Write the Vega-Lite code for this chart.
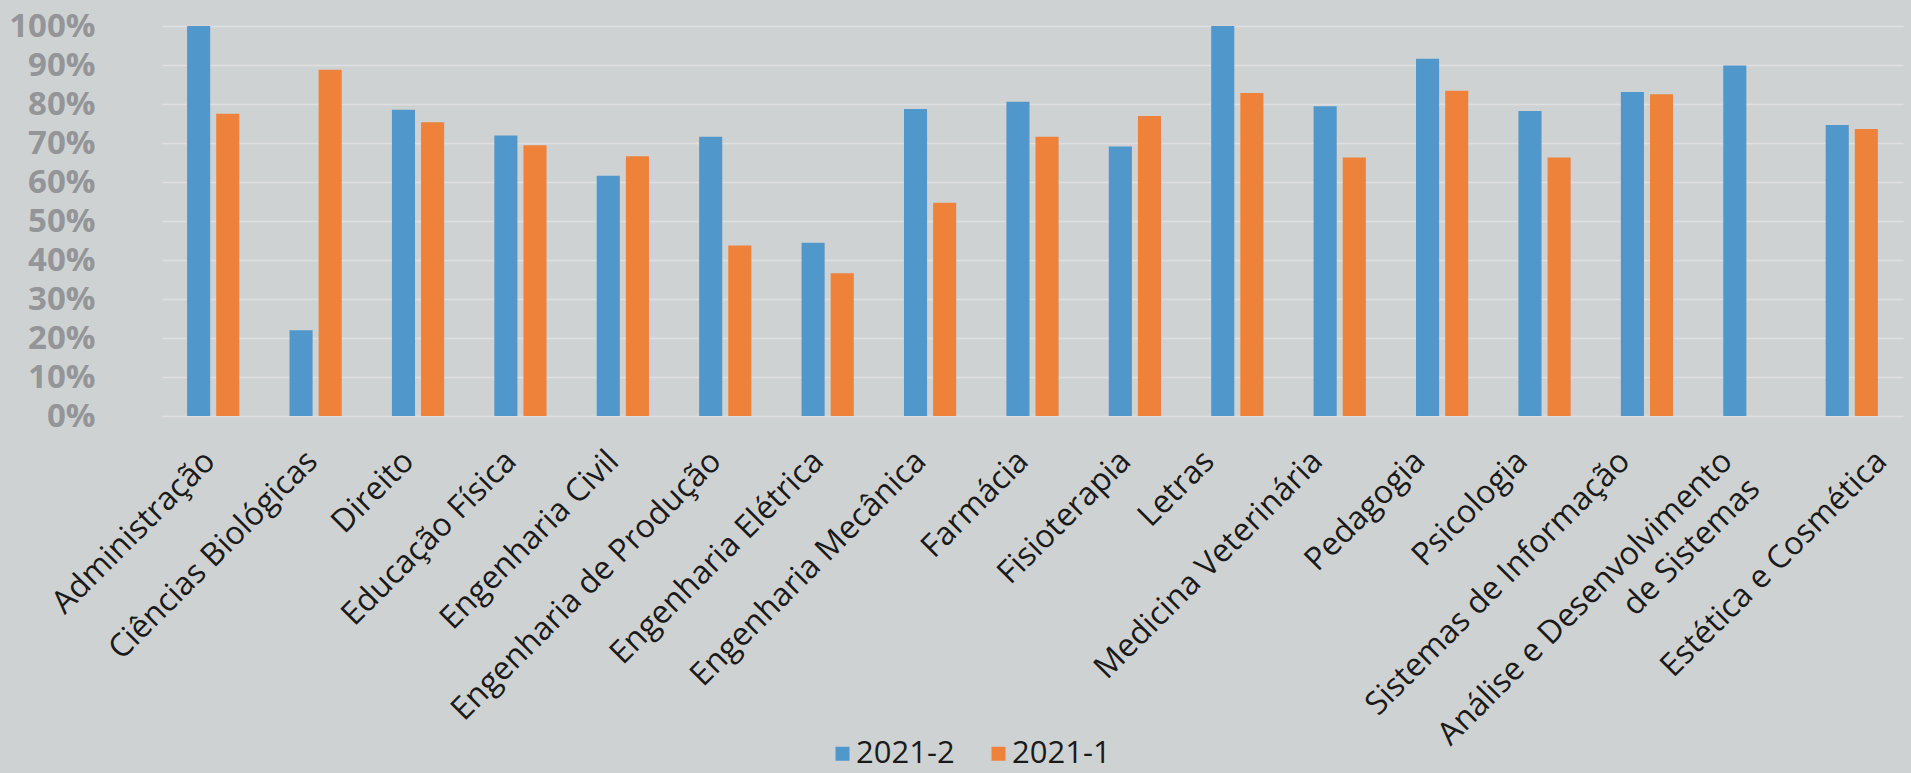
{
  "$schema": "https://vega.github.io/schema/vega-lite/v6.json",
  "autosize": {"type": "none"},
  "padding": {"left": 162, "top": 26, "right": 8, "bottom": 357},
  "width": 1741,
  "height": 390,
  "background": "#CFD2D3",
  "config": {"view": {"stroke": null}, "font": "Open Sans"},
  "data": {
    "values": [
      {"curso": "Administração", "periodo": "2021-2", "valor": 1.0},
      {"curso": "Administração", "periodo": "2021-1", "valor": 0.775},
      {"curso": "Ciências Biológicas", "periodo": "2021-2", "valor": 0.22},
      {"curso": "Ciências Biológicas", "periodo": "2021-1", "valor": 0.888},
      {"curso": "Direito", "periodo": "2021-2", "valor": 0.785},
      {"curso": "Direito", "periodo": "2021-1", "valor": 0.753},
      {"curso": "Educação Física", "periodo": "2021-2", "valor": 0.719},
      {"curso": "Educação Física", "periodo": "2021-1", "valor": 0.694},
      {"curso": "Engenharia Civil", "periodo": "2021-2", "valor": 0.616},
      {"curso": "Engenharia Civil", "periodo": "2021-1", "valor": 0.666},
      {"curso": "Engenharia de Produção", "periodo": "2021-2", "valor": 0.716},
      {"curso": "Engenharia de Produção", "periodo": "2021-1", "valor": 0.4375},
      {"curso": "Engenharia Elétrica", "periodo": "2021-2", "valor": 0.444},
      {"curso": "Engenharia Elétrica", "periodo": "2021-1", "valor": 0.366},
      {"curso": "Engenharia Mecânica", "periodo": "2021-2", "valor": 0.7875},
      {"curso": "Engenharia Mecânica", "periodo": "2021-1", "valor": 0.547},
      {"curso": "Farmácia", "periodo": "2021-2", "valor": 0.806},
      {"curso": "Farmácia", "periodo": "2021-1", "valor": 0.716},
      {"curso": "Fisioterapia", "periodo": "2021-2", "valor": 0.691},
      {"curso": "Fisioterapia", "periodo": "2021-1", "valor": 0.769},
      {"curso": "Letras", "periodo": "2021-2", "valor": 1.0},
      {"curso": "Letras", "periodo": "2021-1", "valor": 0.828},
      {"curso": "Medicina Veterinária", "periodo": "2021-2", "valor": 0.794},
      {"curso": "Medicina Veterinária", "periodo": "2021-1", "valor": 0.663},
      {"curso": "Pedagogia", "periodo": "2021-2", "valor": 0.916},
      {"curso": "Pedagogia", "periodo": "2021-1", "valor": 0.834},
      {"curso": "Psicologia", "periodo": "2021-2", "valor": 0.782},
      {"curso": "Psicologia", "periodo": "2021-1", "valor": 0.663},
      {"curso": "Sistemas de Informação", "periodo": "2021-2", "valor": 0.831},
      {"curso": "Sistemas de Informação", "periodo": "2021-1", "valor": 0.825},
      {"curso": "Análise e Desenvolvimento de Sistemas", "periodo": "2021-2", "valor": 0.899},
      {"curso": "Estética e Cosmética", "periodo": "2021-2", "valor": 0.746},
      {"curso": "Estética e Cosmética", "periodo": "2021-1", "valor": 0.736}
    ]
  },
  "mark": {"type": "bar"},
  "encoding": {
    "x": {
      "field": "curso",
      "type": "nominal",
      "sort": null,
      "scale": {"paddingInner": 0.49, "paddingOuter": 0.245},
      "axis": {
        "title": null,
        "labelAngle": -45,
        "labelFontSize": 32,
        "labelFont": "Open Sans",
        "labelColor": "#1A1A1A",
        "domain": false,
        "ticks": false,
        "grid": false,
        "labelPadding": 29,
        "labelOffset": {
          "condition": [
            {"test": "indexof(['Administração', 'Ciências Biológicas'], datum.value) >= 0", "value": -14},
            {"test": "datum.value == 'Letras'", "value": -39},
            {"test": "indexof(['Medicina Veterinária', 'Pedagogia', 'Psicologia', 'Sistemas de Informação', 'Análise e Desenvolvimento de Sistemas'], datum.value) >= 0", "value": -33},
            {"test": "datum.value == 'Estética e Cosmética'", "value": 19}
          ],
          "value": -20
        },
        "labelLineHeight": 39,
        "labelLimit": 1000,
        "labelOverlap": false,
        "labelExpr": "datum.label == 'Análise e Desenvolvimento de Sistemas' ? ['Análise e Desenvolvimento', 'de Sistemas'] : datum.label"
      }
    },
    "xOffset": {
      "field": "periodo",
      "type": "nominal",
      "sort": ["2021-2", "2021-1"],
      "scale": {"paddingInner": 0.207}
    },
    "y": {
      "field": "valor",
      "type": "quantitative",
      "scale": {"domain": [0, 1]},
      "axis": {
        "title": null,
        "format": ".0%",
        "values": [0, 0.1, 0.2, 0.3, 0.4, 0.5, 0.6, 0.7, 0.8, 0.9, 1.0],
        "labelFont": "Open Sans",
        "labelFontSize": 33,
        "labelFontWeight": "bold",
        "labelColor": "#939598",
        "labelPadding": 67,
        "ticks": false,
        "domain": false,
        "grid": true,
        "gridColor": "#DDDFE0",
        "gridWidth": 1.5
      }
    },
    "color": {
      "field": "periodo",
      "type": "nominal",
      "sort": ["2021-2", "2021-1"],
      "scale": {"domain": ["2021-2", "2021-1"], "range": ["#5097CB", "#EE823B"]},
      "legend": {
        "title": null,
        "orient": "none",
        "legendX": 665,
        "legendY": 712,
        "direction": "horizontal",
        "padding": 0,
        "symbolType": "square",
        "symbolSize": 196,
        "symbolStrokeWidth": 0,
        "labelFont": "Open Sans",
        "labelFontSize": 31,
        "labelColor": "#1A1A1A",
        "labelOffset": -2,
        "columnPadding": 28
      }
    }
  }
}
